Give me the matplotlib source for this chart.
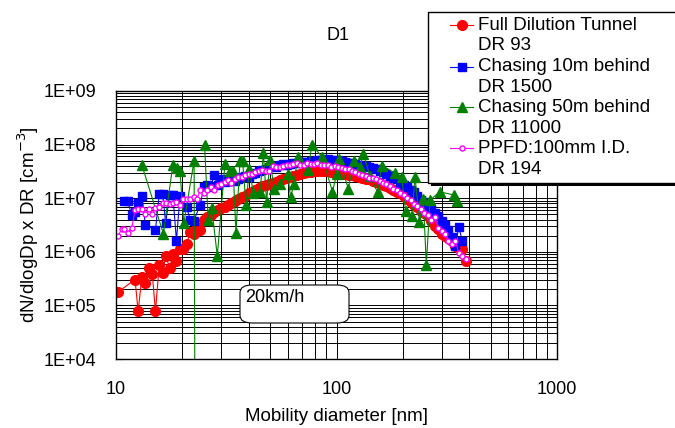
import matplotlib.pyplot as plt
import numpy as np
from matplotlib.patches import FancyBboxPatch, Rectangle
from matplotlib.lines import Line2D
from matplotlib.ticker import LogLocator, NullFormatter, FixedLocator, FixedFormatter

plt.rcParams['font.family'] = ['Liberation Sans', 'DejaVu Sans']

# SMPS channel mid-point diameters [nm], 64 channels per decade
diameters = [10.2, 10.6, 10.9, 11.3, 11.8, 12.2, 12.6, 13.1, 13.6, 14.1,
             14.6, 15.1, 15.7, 16.3, 16.8, 17.5, 18.1, 18.8, 19.5, 20.2,
             20.9, 21.7, 22.5, 23.3, 24.1, 25.0, 25.9, 26.9, 27.9, 28.9,
             30.0, 31.1, 32.2, 33.4, 34.6, 35.9, 37.2, 38.5, 40.0, 41.4,
             42.9, 44.5, 46.1, 47.8, 49.6, 51.4, 53.3, 55.2, 57.3, 59.4,
             61.5, 63.8, 66.1, 68.5, 71.0, 73.7, 76.4, 79.1, 82.0, 85.1,
             88.2, 91.4, 94.7, 98.2, 101.8, 105.5, 109.4, 113.4, 117.6, 121.9,
             126.3, 131.0, 135.8, 140.7, 145.9, 151.2, 156.8, 162.5, 168.5, 174.7,
             181.1, 187.7, 194.6, 201.7, 209.1, 216.7, 224.7, 232.9, 241.4, 250.3,
             259.5, 269.0, 278.8, 289.0, 299.6, 310.6, 322.0, 333.8, 346.0, 358.7,
             371.8, 385.4]

# log10 of dN/dlogDp x DR (None = no point)
tunnel_log = [5.25, None, None, None, None, 5.48, 4.89, 5.53, 5.41, 5.70,
              5.59, 4.89, 5.75, 5.60, 5.93, 5.70, 5.95, 5.83, 6.05, 6.06,
              6.15, 6.37, 6.33, 6.46, 6.41, 6.59, 6.64, 6.68, 6.74, 6.78,
              6.82, 6.84, 6.88, 6.91, 6.94, 6.99, 7.02, 7.05, 7.09, 7.12,
              7.15, 7.19, 7.22, 7.24, 7.27, 7.29, 7.31, 7.34, 7.36, 7.38,
              7.40, 7.42, 7.44, 7.46, 7.47, 7.48, 7.49, 7.50, 7.51, 7.51,
              7.50, 7.50, 7.49, 7.49, 7.48, 7.46, 7.45, 7.44, 7.43, 7.41,
              7.40, 7.38, 7.36, 7.35, 7.32, 7.30, 7.28, 7.25, 7.22, 7.19,
              7.16, 7.12, 7.09, 7.04, 6.98, 6.93, 6.88, 6.83, 6.77, 6.73,
              6.66, 6.58, 6.49, 6.42, 6.33, 6.29, 6.26, 6.20, 6.10, 6.07,
              6.05, 5.82]

chase10_log = [None, None, 6.94, 6.94, 6.68, 6.74, 6.91, 7.04, 6.50, None,
               None, 6.41, 7.07, 7.07, 6.54, 7.06, 7.06, 6.21, 7.04, None,
               6.84, 6.60, 6.58, None, 6.87, 7.21, 7.24, 7.21, 7.43, 7.24,
               7.35, 7.30, 7.33, 7.38, 7.32, 7.36, 7.40, 7.42, 7.40, 7.45,
               7.47, 7.50, 7.52, 7.55, 7.58, 7.60, 7.59, 7.62, 7.63, 7.62,
               7.64, 7.66, 7.65, 7.67, 7.68, 7.67, 7.70, 7.69, 7.71, 7.72,
               7.70, 7.73, 7.72, 7.70, 7.71, 7.69, 7.68, 7.66, 7.65, 7.64,
               7.62, 7.61, 7.60, 7.58, 7.56, 7.54, 7.51, 7.49, 7.46, 7.42,
               7.38, 7.35, 7.29, 7.24, 7.20, 7.16, 7.12, 7.04, 6.97, 6.92,
               6.86, 6.80, 6.72, 6.66, 6.58, 6.50, 6.40, 6.28, 6.10, 6.47,
               6.20, None]

ppfd_log = [6.29, 6.42, 6.42, 6.36, 6.45, 6.78, 6.79, 6.79, 6.71, 6.79,
            6.70, 6.82, 6.83, 6.91, 6.91, 6.90, 6.91, 6.92, 6.87, 6.99,
            6.99, 6.98, 7.03, 6.99, 7.15, 7.10, 7.16, 7.21, 7.15, 7.24,
            7.27, 7.30, 7.34, 7.29, 7.36, 7.39, 7.40, 7.43, 7.46, 7.46,
            7.48, 7.51, 7.52, 7.50, 7.51, 7.60, 7.59, 7.59, 7.60, 7.62,
            7.62, 7.63, 7.65, 7.62, 7.62, 7.66, 7.64, 7.64, 7.65, 7.62,
            7.62, 7.62, 7.59, 7.60, 7.59, 7.56, 7.54, 7.54, 7.51, 7.48,
            7.46, 7.44, 7.41, 7.38, 7.38, 7.35, 7.32, 7.29, 7.26, 7.22,
            7.18, 7.15, 7.10, 7.06, 7.01, 6.96, 6.90, 6.85, 6.79, 6.73,
            6.68, 6.59, 6.64, 6.45, 6.38, 6.33, 6.20, 6.14, 6.21, 5.97,
            5.92, 5.87]

# chasing 50 m behind: own diameters (sparser, noisy); the None breaks the line
# after the off-scale low point
chase50_d = [13.1, 16.4, 18.1, 18.9, 19.5, 20.3, 22.6, 22.9, 24.0, 25.2, 26.2,
             27.2, 28.8, 31.2, 32.9, 34.0, 35.0, 36.5, 37.5, 38.9, 40.2,
             42.0, 45.0, 46.6, 48.2, 49.9, 52.1, 55.4, 60.0, 61.9, 64.2,
             66.6, 74.5, 77.2, 86.0, 95.9, 100.2, 102.6, 113.1, 120.0, 127.8,
             132.3, 141.9, 153.5, 160.3, 184.2, 197.6, 205.6, 219.3, 227.0, 237.9,
             247.6, 255.5, 265.5, 293.2, 341.2, 352.1]
chase50_log = [7.62, 6.34, 7.62, 7.57, 7.51, 6.53, 7.70, 1.00, None, 8.00, 6.59,
               6.81, 5.92, 7.64, 7.51, 7.51, 6.35, 7.69, 7.69, 6.87, 7.55,
               7.09, 7.12, 7.84, 6.93, 7.72, 7.18, 7.27, 7.46, 7.02, 7.27,
               7.77, 7.52, 8.00, 7.77, 7.12, 7.46, 7.73, 7.18, 7.70, 7.59,
               7.83, 7.41, 7.11, 7.61, 7.47, 7.39, 6.77, 6.67, 7.40, 6.56,
               6.98, 5.76, 6.96, 7.12, 7.06, 6.95]

series_labels = ['Full Dilution Tunnel', 'Chasing 10m behind', 'Chasing 50m behind', 'PPFD:100mm I.D.']
dr_labels = ['DR 93', 'DR 1500', 'DR 11000', 'DR 194']

y_ticks = [1e4, 1e5, 1e6, 1e7, 1e8, 1e9]
y_tick_labels = ['1E+04', '1E+05', '1E+06', '1E+07', '1E+08', '1E+09']
x_ticks = [10, 100, 1000]
x_tick_labels = ['10', '100', '1000']


def points(d, logv, drop=True):
    d = np.array(d, dtype=float)
    v = np.array(logv, dtype=float)
    if drop:
        ok = ~np.isnan(v)
        d, v = d[ok], v[ok]
    return d, 10 ** v


W, H = 675, 428
fig = plt.figure(figsize=(W / 100, H / 100), dpi=100)
ax = fig.add_axes([116 / W, 1 - 359 / H, (557 - 116) / W, (359 - 91) / H])
ax.set_xscale('log')
ax.set_yscale('log')
ax.set_xlim(10, 1000)
ax.set_ylim(1e4, 1e9)

ax.xaxis.set_major_locator(FixedLocator(x_ticks))
ax.xaxis.set_major_formatter(FixedFormatter(x_tick_labels))
ax.yaxis.set_major_locator(FixedLocator(y_ticks))
ax.yaxis.set_major_formatter(FixedFormatter(y_tick_labels))
for axis in (ax.xaxis, ax.yaxis):
    axis.set_minor_locator(LogLocator(base=10, subs=np.arange(2, 10), numticks=100))
    axis.set_minor_formatter(NullFormatter())
ax.grid(True, which='both', color='black', lw=0.7)
ax.set_axisbelow(True)
ax.tick_params(which='minor', length=0)
ax.tick_params(axis='x', which='major', length=0, pad=16, labelsize=13)
ax.tick_params(axis='y', which='major', length=4, direction='in', pad=14, labelsize=13)
for s in ax.spines.values():
    s.set_color('black')
    s.set_linewidth(1)

styles = [
    dict(color='red', marker='o', ms=7, mfc='red', mec='red'),
    dict(color='blue', marker='s', ms=6.2, mfc='blue', mec='blue'),
    dict(color='green', marker='^', ms=6.5, mfc='green', mec='green'),
    dict(color='magenta', marker='o', ms=3.6, mfc='white', mec='magenta', mew=1),
]

data = [points(diameters, tunnel_log), points(diameters, chase10_log),
        points(chase50_d, chase50_log, drop=False), points(diameters, ppfd_log)]
for (d, v), st in zip(data, styles):
    ax.plot(d, v, lw=0.8, **st)

ax.set_xlabel('Mobility diameter [nm]', fontsize=13.5, labelpad=7)
ax.set_ylabel('dN/dlogDp x DR [cm$^{-3}$]', fontsize=13.5, labelpad=2)
fig.text(338 / W, 1 - 35 / H, 'D1', fontsize=13, ha='center', va='center')

# speed box
fig.add_artist(FancyBboxPatch((240 / W, 1 - 323 / H), 109 / W, 38 / H,
                              boxstyle='round,pad=0,rounding_size=0.018',
                              transform=fig.transFigure, fc='white', ec='black', lw=0.8))
fig.text(245 / W, 1 - 297 / H, '20km/h', fontsize=13, ha='left', va='center')

# legend drawn by hand
fig.add_artist(Rectangle((431 / W, 1 - 186 / H), 260 / W, 172 / H,
                         transform=fig.transFigure, fc='black', ec='none'))
fig.add_artist(Rectangle((428 / W, 1 - 183 / H), 260 / W, 171 / H,
                         transform=fig.transFigure, fc='white', ec='black', lw=1))
rows = [25, 46, 66.7, 87.7, 107.3, 128.3, 148.3, 170]
for i, st in enumerate(styles):
    y1 = 1 - rows[2 * i] / H
    y2 = 1 - rows[2 * i + 1] / H
    fig.add_artist(Line2D([450 / W, 473 / W], [y1, y1], transform=fig.transFigure,
                          lw=0.8, color=st['color']))
    fig.add_artist(Line2D([461.5 / W], [y1], transform=fig.transFigure, ls='none',
                          marker=st['marker'], ms=st['ms'], mfc=st['mfc'], mec=st['mec'],
                          mew=st.get('mew', 1)))
    fig.text(478 / W, y1, series_labels[i], fontsize=13.5, ha='left', va='center')
    fig.text(478 / W, y2, dr_labels[i], fontsize=13.5, ha='left', va='center')

fig.savefig('out.png', dpi=100)
